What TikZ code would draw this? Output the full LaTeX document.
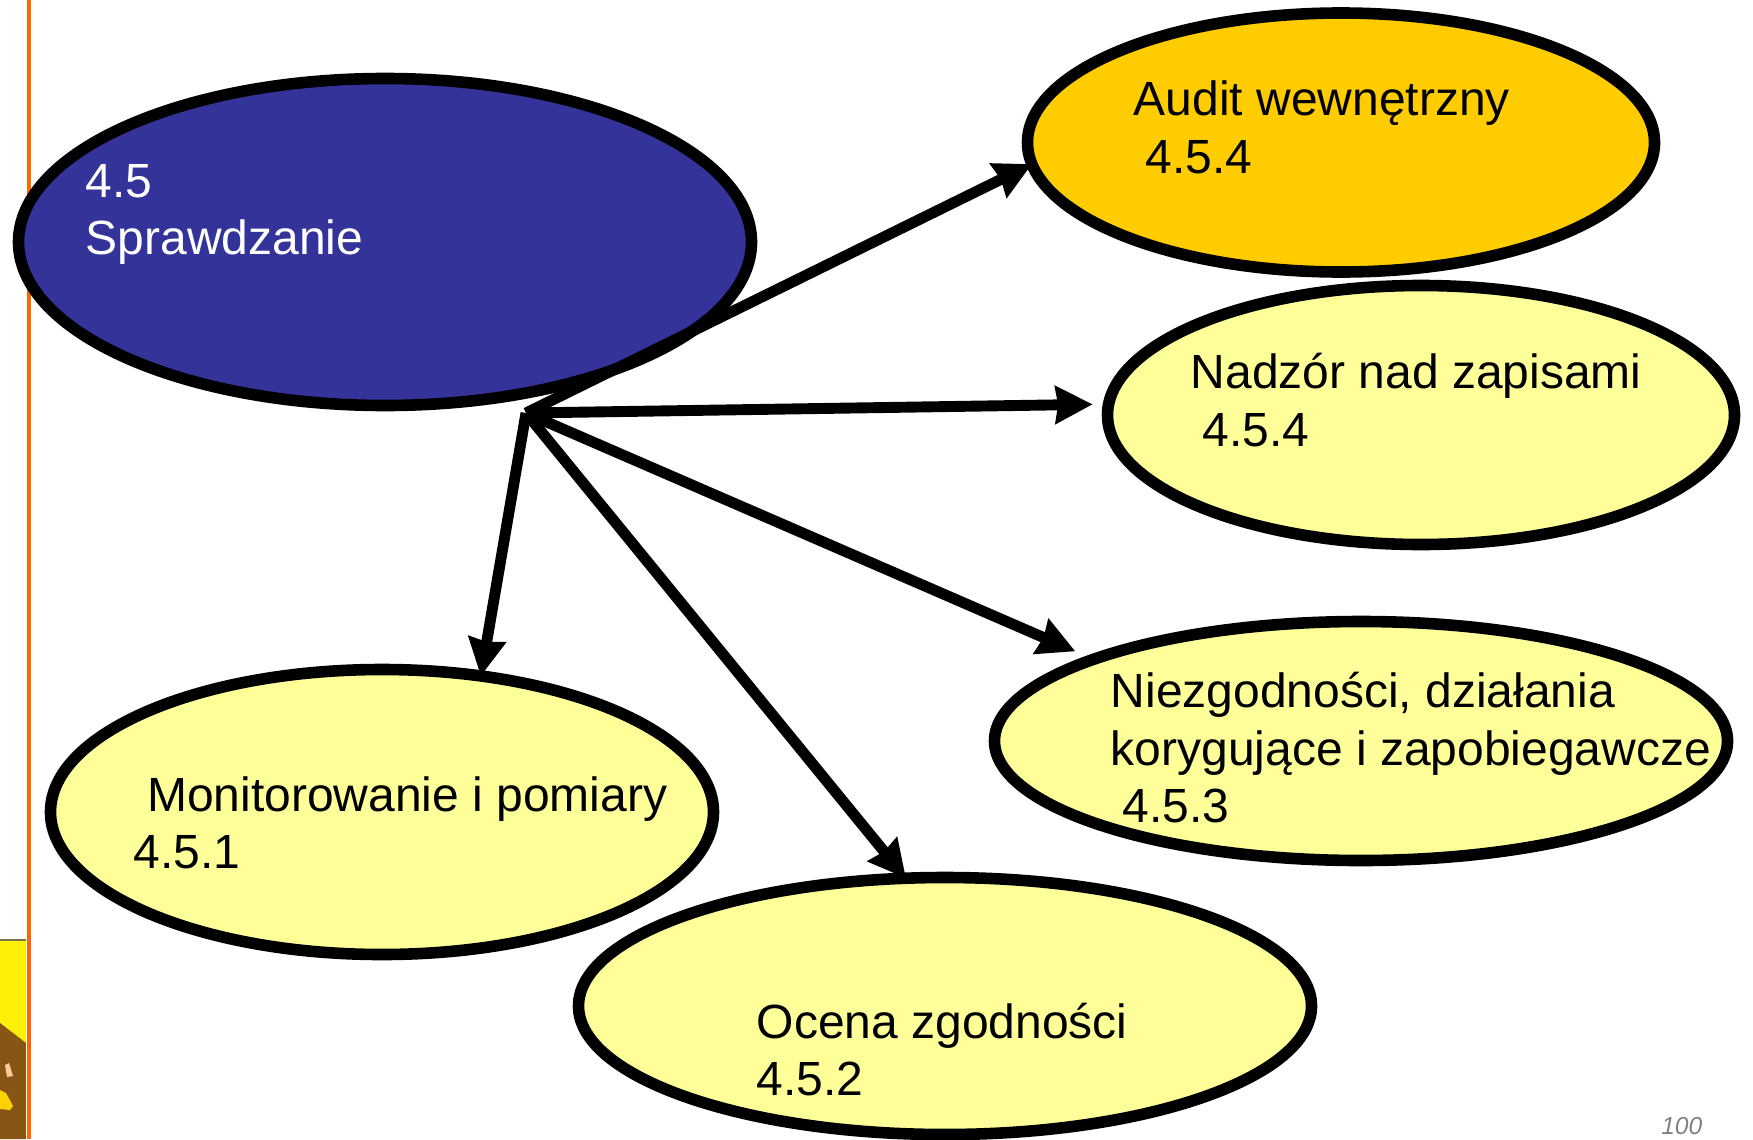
\documentclass[tikz,border=0pt]{standalone}
\usepackage{fontspec}
\setmainfont{Liberation Sans}
\usepackage{tikz}
\usetikzlibrary{arrows.meta, shapes.geometric}
\definecolor{checkBlue}{RGB}{51, 51, 153}
\definecolor{auditGold}{RGB}{255, 204, 0}
\definecolor{paleYellow}{RGB}{255, 255, 153}
\definecolor{marginOrange}{RGB}{255, 102, 0}
\definecolor{logoYellow}{RGB}{255, 240, 10}
\definecolor{logoBrown}{RGB}{135, 85, 20}
\newcommand{\indentnum}{\hspace*{3.3pt}}
\tikzset{
  topic/.style={draw, ellipse, line width=3.3pt, inner sep=0pt, outer sep=0pt, fill=paleYellow},
  topictext/.style={anchor=north west, align=left, inner sep=0pt, font=\fontsize{13.66}{16.35}\selectfont},
  link/.style={line width=3.1pt, -{Stealth[length=3.7mm, width=3.7mm, inset=0.25mm]}}
}
\begin{document}
\begin{tikzpicture}
  \useasboundingbox (0,0) rectangle (17.53,11.39);
  % Corner of the logo and the margin rule
  \fill[logoYellow] (0,1.99) rectangle (0.26,0);
  \fill[black!60!yellow] (0,1.98) rectangle (0.26,2.0);
  \fill[logoBrown] (0,0) -- (0,1.16) -- (0.26,0.96) -- (0.26,0) -- cycle;
  \fill[yellow!70!orange] (0,0.49) -- (0.06,0.46) -- (0.13,0.33) -- (0.10,0.29) -- (0,0.30) -- cycle;
  \fill[orange!40] (0.05,0.74) -- (0.09,0.76) -- (0.13,0.63) -- (0.07,0.62) -- cycle;
  \fill[marginOrange] (0.265,0) rectangle (0.31,11.39);

  % Ellipses
  \node[topic, fill=checkBlue, minimum width=7.33cm, minimum height=3.27cm] (check) at (3.85,8.97) {};
  \node[topic, fill=auditGold, minimum width=6.27cm, minimum height=2.59cm] (audit) at (13.41,9.965) {};
  \node[topic, minimum width=6.27cm, minimum height=2.59cm] (records) at (14.21,7.24) {};
  \node[topic, minimum width=7.33cm, minimum height=2.39cm] (nonconf) at (13.61,3.98) {};
  \node[topic, minimum width=6.63cm, minimum height=2.85cm] (monitor) at (3.82,3.27) {};
  \node[topic, minimum width=7.33cm, minimum height=2.57cm] (compl) at (9.45,1.33) {};

  % Labels
  \node[topictext, text=white] (checktext) at (0.85,9.755) {4.5\\Sprawdzanie};
  \node[topictext] (audittext) at (11.33,10.585) {Audit wewnętrzny\\\indentnum 4.5.4};
  \node[topictext] (recordstext) at (11.90,7.865) {Nadzór nad zapisami\\\indentnum 4.5.4};
  \node[topictext] (nonconftext) at (11.10,4.675) {Niezgodności, działania\\korygujące i zapobiegawcze\\\indentnum 4.5.3};
  \node[topictext] (monitortext) at (1.33,3.635) {\ Monitorowanie i pomiary\\4.5.1};
  \node[topictext] (compltext) at (7.56,1.37) {Ocena zgodności\\4.5.2};
  \node[anchor=base east, inner sep=0pt, text=gray, font=\fontsize{7}{8}\selectfont\itshape] (pagenum) at (17.03,0.05) {100};

  % Arrows from the common point
  \coordinate (hub) at (5.26,7.26);
  \draw[link] (hub) -- (audit.184);
  \draw[link, shorten >=0.16cm] (hub) -- (records.178);
  \draw[link, shorten >=0.2cm] (hub) -- (nonconf.163);
  \draw[link] (hub) -- (monitor.54);
  \draw[link] (hub) -- (compl.107);
\end{tikzpicture}
\end{document}
